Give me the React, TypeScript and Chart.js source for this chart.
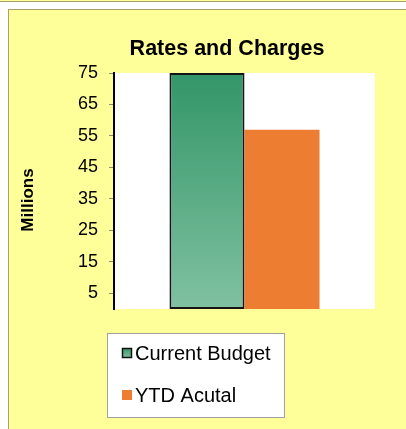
import React, { useEffect, useRef } from "react";
import { Chart, registerables } from "chart.js";

Chart.register(...registerables);

const chartTitle = "Rates and Charges";
const yAxisTitle = "Millions";
const categories = ["Rates and Charges"];
const seriesNames = ["Current Budget", "YTD Acutal"];
const currentBudget = [75];
const ytdActual = [57];
const yTicks = [5, 15, 25, 35, 45, 55, 65, 75];
const yMin = 0;
const yMax = 75;

const YELLOW = "#FFFF99";
const OLIVE = "#A8A066";
const GREEN_TOP = "#339669";
const GREEN_BOTTOM = "#80C1A1";
const ORANGE = "#ED7D31";
const FONT = "'Liberation Sans', Arial, sans-serif";

export default function App() {
  const canvasRef = useRef<HTMLCanvasElement | null>(null);

  useEffect(() => {
    document.body.style.margin = "0";
    const canvas = canvasRef.current;
    if (!canvas) return;

    const greenFill = (c: any) => {
      const chart = c.chart;
      const a = chart.chartArea;
      if (!a) return GREEN_TOP;
      const g = chart.ctx.createLinearGradient(0, a.top, 0, a.bottom);
      g.addColorStop(0, GREEN_TOP);
      g.addColorStop(1, GREEN_BOTTOM);
      return g;
    };

    const decor = {
      id: "decor",
      beforeDraw(chart: any) {
        const { ctx, chartArea: a } = chart;
        ctx.save();
        ctx.fillStyle = "#FFFFFF";
        ctx.fillRect(a.left, a.top, a.right - a.left, a.bottom - a.top);
        ctx.restore();
      },
      afterDraw(chart: any) {
        const { ctx } = chart;
        // Chart title
        ctx.save();
        ctx.fillStyle = "#000";
        ctx.font = `bold 21.5px ${FONT}`;
        ctx.textAlign = "center";
        ctx.textBaseline = "middle";
        ctx.fillText(chartTitle, 227, 49);
        ctx.restore();

        // Axis title
        ctx.save();
        ctx.translate(28, 200);
        ctx.rotate(-Math.PI / 2);
        ctx.fillStyle = "#000";
        ctx.font = `bold 17px ${FONT}`;
        ctx.textAlign = "center";
        ctx.textBaseline = "middle";
        ctx.fillText(yAxisTitle, 0, 0);
        ctx.restore();

        // Legend box
        ctx.save();
        const bx = 107.5, by = 333.5, bw = 177, bh = 84;
        ctx.fillStyle = "#FFFFFF";
        ctx.fillRect(bx, by, bw, bh);
        ctx.strokeStyle = "#A0A0A0";
        ctx.lineWidth = 1;
        ctx.strokeRect(bx, by, bw, bh);
        const rows = [353, 395];
        chart.data.datasets.forEach((ds: any, i: number) => {
          const cy = rows[i];
          if (i === 0) {
            const g = ctx.createLinearGradient(0, cy - 5, 0, cy + 5);
            g.addColorStop(0, GREEN_TOP);
            g.addColorStop(1, GREEN_BOTTOM);
            ctx.fillStyle = g;
            ctx.fillRect(122, cy - 5, 10, 10);
            ctx.strokeStyle = "#111";
            ctx.lineWidth = 1.5;
            ctx.strokeRect(122.5, cy - 4.5, 9, 9);
          } else {
            ctx.fillStyle = ORANGE;
            ctx.fillRect(122, cy - 5, 10, 10);
          }
          ctx.fillStyle = "#000";
          ctx.font = `20px ${FONT}`;
          ctx.textAlign = "left";
          ctx.textBaseline = "middle";
          ctx.fillText(ds.label, 135, cy + 1);
        });
        ctx.restore();
      },
    };

    const chart = new Chart(canvas, {
      type: "bar",
      data: {
        labels: categories,
        datasets: [
          {
            label: seriesNames[0],
            data: currentBudget,
            backgroundColor: greenFill,
            borderColor: "#151515",
            borderWidth: 2,
            borderSkipped: false,
          },
          {
            label: seriesNames[1],
            data: ytdActual,
            backgroundColor: ORANGE,
            borderWidth: 0,
          },
        ],
      },
      options: {
        animation: false,
        responsive: false,
        maintainAspectRatio: false,
        events: [],
        layout: { padding: { left: 0, top: 73, right: 31, bottom: 120 } },
        datasets: {
          bar: { categoryPercentage: 0.575, barPercentage: 1 },
        },
        plugins: {
          legend: { display: false },
          tooltip: { enabled: false },
          title: { display: false },
        },
        scales: {
          x: { display: false },
          y: {
            min: yMin,
            max: yMax,
            afterFit: (s: any) => {
              s.width = 114;
            },
            afterBuildTicks: (s: any) => {
              s.ticks = yTicks.map((v) => ({ value: v }));
            },
            ticks: {
              color: "#000",
              font: { family: FONT, size: 18 },
              padding: 11,
            },
            grid: {
              drawOnChartArea: false,
              drawTicks: true,
              tickLength: 5,
              tickColor: "#8A8A6A",
              tickWidth: 1,
            },
            border: { display: true, color: "#000", width: 2 },
          },
        },
      },
      plugins: [decor],
    } as any);

    return () => chart.destroy();
  }, []);

  return (
    <div style={{ position: "relative", width: 406, height: 429, background: "#FFFFFF", overflow: "hidden" }}>
      <div style={{ position: "absolute", left: 0, top: 0, width: 406, height: 1, background: YELLOW, borderBottom: `1px solid ${OLIVE}` }} />
      <div
        style={{
          position: "absolute",
          left: 8,
          top: 9,
          width: 420,
          height: 440,
          background: YELLOW,
          borderTop: `1.5px solid ${OLIVE}`,
          borderLeft: `1.5px solid ${OLIVE}`,
        }}
      />
      <canvas ref={canvasRef} width={406} height={429} style={{ position: "absolute", left: 0, top: 0, width: 406, height: 429 }} />
    </div>
  );
}
